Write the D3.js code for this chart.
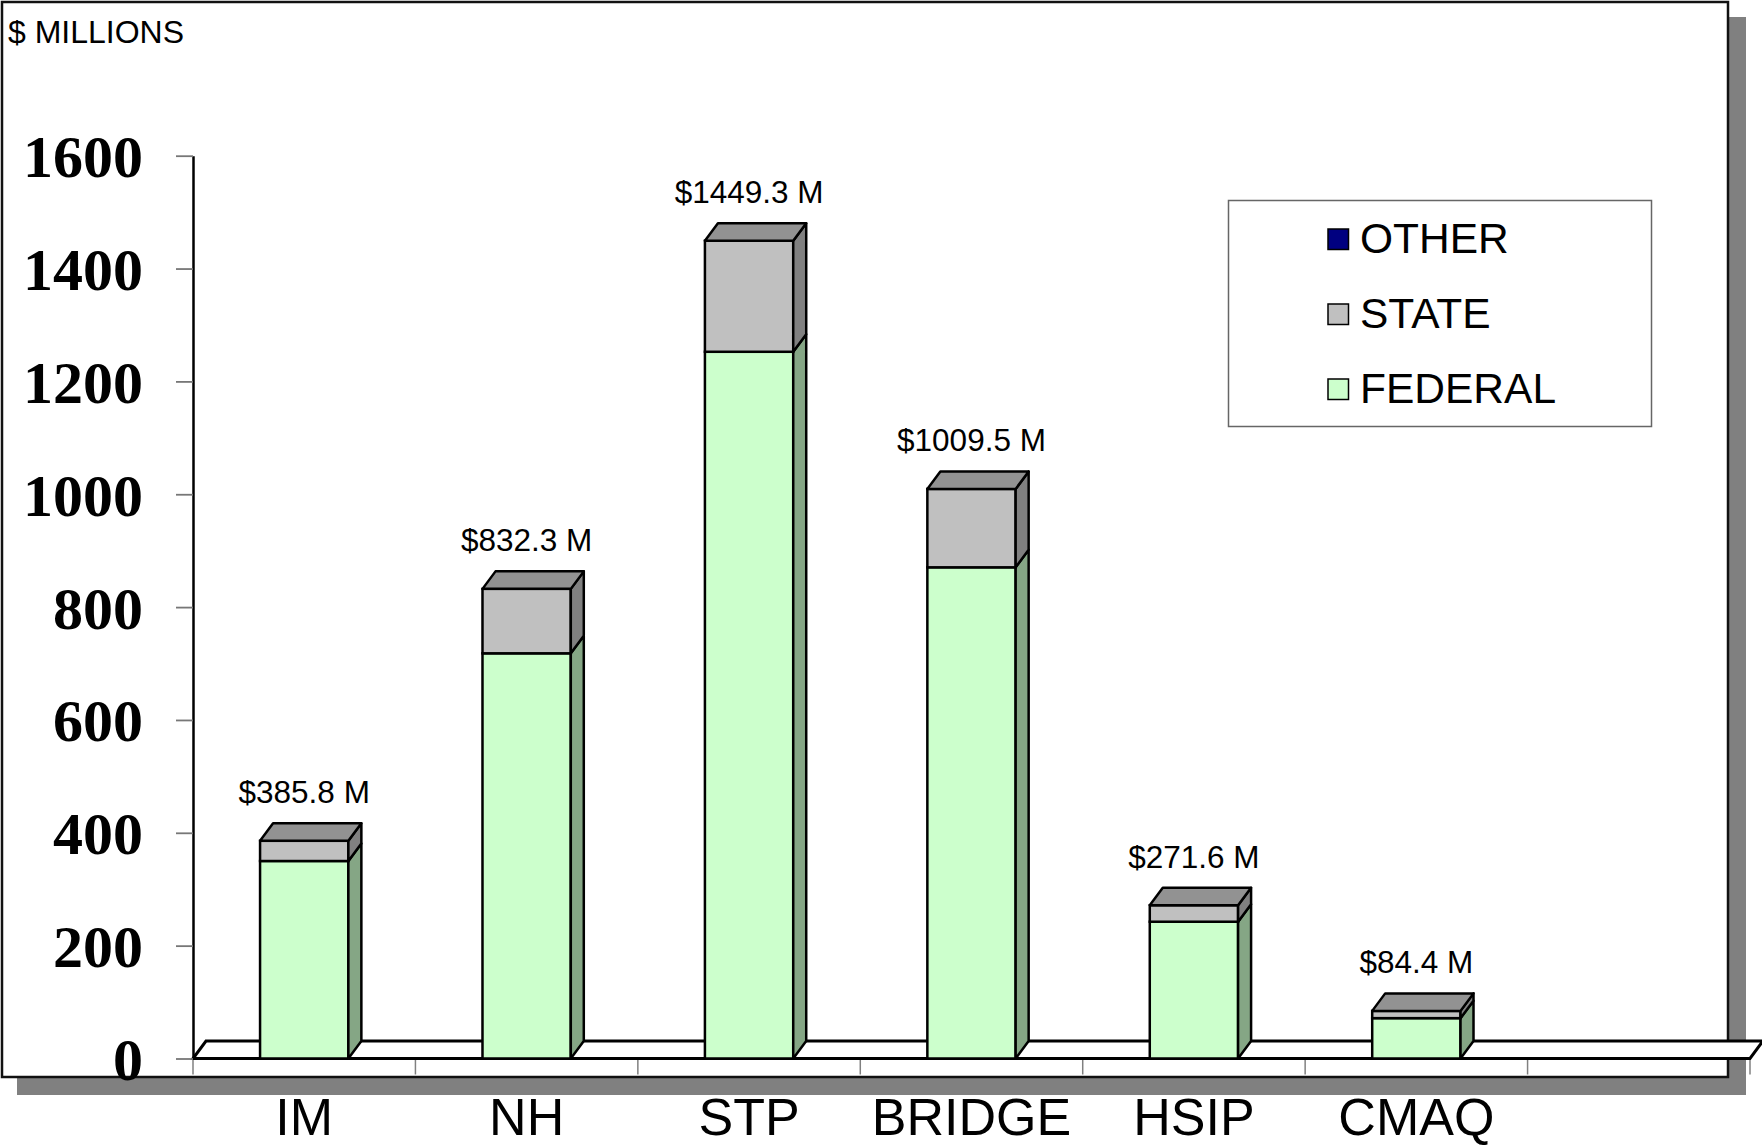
<!DOCTYPE html>
<html>
<head>
<meta charset="utf-8">
<script src="https://cdn.jsdelivr.net/npm/d3@7"></script>
<style>
  body { margin: 0; background: #fff; }
  svg { display: block; }
</style>
</head>
<body>
<div id="chart"></div>
<script>
// program funding, $ millions
const categories = ["IM", "NH", "STP", "BRIDGE", "HSIP", "CMAQ"];
const federal = [350.0, 718.1, 1252.5, 870.5, 242.4, 71.5];
const state = [35.8, 114.2, 196.8, 139.0, 29.2, 12.9];
const other = [0, 0, 0, 0, 0, 0];
const yTicks = [0, 200, 400, 600, 800, 1000, 1200, 1400, 1600];
const legendNames = ["OTHER", "STATE", "FEDERAL"];

const w = 1762;
const h = 1147;
const sans = "'Liberation Sans', Arial, sans-serif";

const front = { FEDERAL: "#CCFFCC", STATE: "#C0C0C0", OTHER: "#000080" };
const side = { FEDERAL: "#85A685", STATE: "#808080", OTHER: "#000055" };
const topFace = { FEDERAL: "#99BF99", STATE: "#929292", OTHER: "#000066" };

let svg = d3.select("#chart")
  .append("svg")
    .attr("width", w)
    .attr("height", h);

// chart frame with drop shadow
svg.append("rect")
  .attr("x", 17).attr("y", 17)
  .attr("width", 1729).attr("height", 1078)
  .attr("fill", "#808080");
svg.append("rect")
  .attr("x", 2).attr("y", 2)
  .attr("width", 1726).attr("height", 1075)
  .attr("fill", "#fff")
  .attr("stroke", "#111")
  .attr("stroke-width", 2.5);

svg.append("text")
  .attr("x", 8).attr("y", 42.5)
  .attr("font-family", sans)
  .attr("font-size", 32)
  .text("$ MILLIONS");

// one extra empty slot on the right, like the original
let x = d3.scaleBand().domain(categories.concat([" "])).range([193, 1750]).padding(0);
let y = d3.scaleLinear().domain([0, 1600]).range([1058.5, 155.7]);
const dx = 13, dy = -17.5;
const barW = x.bandwidth() * 0.397;

// floor
let x0 = x.range()[0], x1 = x.range()[1], yb = y(0);
svg.append("polygon")
  .attr("points", [[x0, yb], [x1, yb], [x1 + dx, yb + dy], [x0 + dx, yb + dy]].map(p => p.join(",")).join(" "))
  .attr("fill", "#fff")
  .attr("stroke", "#000")
  .attr("stroke-width", 3)
  .attr("stroke-linejoin", "miter");

// category boundary ticks
let bounds = x.domain().map(d => x(d)).concat([x1]);
svg.selectAll(".cat-tick").data(bounds).enter().append("line")
  .attr("class", "cat-tick")
  .attr("x1", d => d).attr("x2", d => d)
  .attr("y1", yb + 1.5).attr("y2", yb + 16)
  .attr("stroke", "#808080")
  .attr("stroke-width", 1.5);

// y axis
let yAxis = d3.axisLeft(y).tickValues(yTicks).tickSize(17).tickSizeOuter(0).tickPadding(33).tickFormat(d3.format("d"));
let gy = svg.append("g").attr("transform", "translate(193,0)").call(yAxis);
gy.select(".domain").attr("stroke", "#000").attr("stroke-width", 2.5);
gy.selectAll(".tick line").attr("stroke", "#777").attr("stroke-width", 1.8);
gy.selectAll(".tick text")
  .attr("font-family", "'Liberation Serif', 'Times New Roman', serif")
  .attr("font-weight", "bold")
  .attr("font-size", 60)
  .attr("fill", "#000")
  .attr("dy", "0.35em");

// x axis labels
let xAxis = d3.axisBottom(x).tickValues(categories).tickSize(0).tickPadding(40);
let gx = svg.append("g").attr("transform", `translate(0,${yb})`).call(xAxis);
gx.select(".domain").remove();
gx.selectAll(".tick text")
  .attr("font-family", sans)
  .attr("font-size", 52)
  .attr("fill", "#000");

// stacked 3d bars
let rows = categories.map((c, i) => ({ cat: c, FEDERAL: federal[i], STATE: state[i], OTHER: other[i] }));
let series = d3.stack().keys(["FEDERAL", "STATE", "OTHER"])(rows);

let bars = svg.append("g").attr("class", "bars");
rows.forEach((row, i) => {
  let xl = x(row.cat) + (x.bandwidth() - barW) / 2;
  let xr = xl + barW;
  let g = bars.append("g");
  let topKey = null, total = 0;
  series.forEach(s => {
    let [v0, v1] = s[i];
    if (v1 - v0 <= 0) return;
    topKey = s.key;
    total = v1;
    g.append("rect")
      .attr("x", xl).attr("y", y(v1))
      .attr("width", barW).attr("height", y(v0) - y(v1))
      .attr("fill", front[s.key])
      .attr("stroke", "#000").attr("stroke-width", 2.5);
    g.append("polygon")
      .attr("points", [[xr, y(v1)], [xr + dx, y(v1) + dy], [xr + dx, y(v0) + dy], [xr, y(v0)]].map(p => p.join(",")).join(" "))
      .attr("fill", side[s.key])
      .attr("stroke", "#000").attr("stroke-width", 2.5).attr("stroke-linejoin", "round");
  });
  let yt = y(total);
  g.append("polygon")
    .attr("points", [[xl, yt], [xr, yt], [xr + dx, yt + dy], [xl + dx, yt + dy]].map(p => p.join(",")).join(" "))
    .attr("fill", topFace[topKey])
    .attr("stroke", "#000").attr("stroke-width", 2.5).attr("stroke-linejoin", "round");
  g.append("text")
    .attr("x", xl + barW / 2)
    .attr("y", yt + dy - 20)
    .attr("text-anchor", "middle")
    .attr("font-family", sans)
    .attr("font-size", 31.5)
    .text("$" + total.toFixed(1) + " M");
});

// legend
let legend = svg.append("g").attr("class", "legend");
legend.append("rect")
  .attr("x", 1228.5).attr("y", 200.5)
  .attr("width", 423).attr("height", 226)
  .attr("fill", "#fff")
  .attr("stroke", "#666")
  .attr("stroke-width", 1.5);
let items = legend.selectAll(".item").data(legendNames).enter().append("g")
  .attr("class", "item")
  .attr("transform", (d, i) => `translate(0,${i * 75})`);
items.append("rect")
  .attr("x", 1328).attr("y", 229)
  .attr("width", 20.5).attr("height", 20.5)
  .attr("fill", d => front[d])
  .attr("stroke", "#000")
  .attr("stroke-width", 1.5);
items.append("text")
  .attr("x", 1360).attr("y", 252.5)
  .attr("font-family", sans)
  .attr("font-size", 42.5)
  .text(d => d);
</script>
</body>
</html>
